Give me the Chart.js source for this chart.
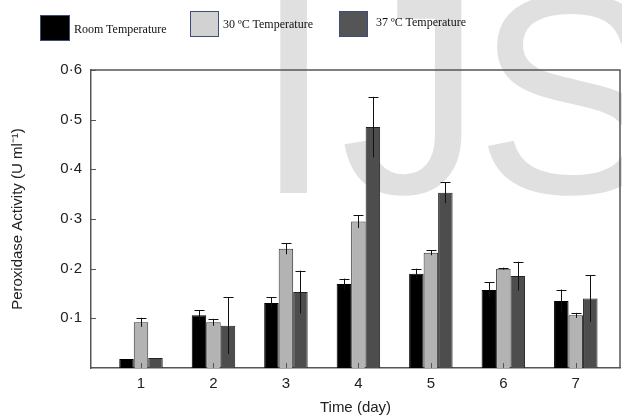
<!DOCTYPE html>
<html>
<head>
<meta charset="utf-8">
<script src="https://cdn.jsdelivr.net/npm/chart.js@4.4.0/dist/chart.umd.min.js"></script>
<style>
  body { margin: 0; background: #fff; }
  #wrap { position: relative; width: 622px; height: 419px; }
  canvas { position: absolute; left: 0; top: 0; }
  .leg { position: absolute; font-family: "Liberation Serif", "Times New Roman", serif; font-size: 12px; color: #111; }
  .box { position: absolute; border: 1px solid #3c4f7a; box-sizing: border-box; }
</style>
</head>
<body>
<div id="wrap">
  <canvas id="grafico" width="622" height="419"></canvas>
  <div class="box" style="left:40px;top:15px;width:30px;height:26px;background:#000;"></div>
  <div class="leg" style="left:74px;top:22px;">Room Temperature</div>
  <div class="box" style="left:190px;top:11px;width:29px;height:26px;background:#d2d2d2;"></div>
  <div class="leg" style="left:223px;top:17px;">30 ºC Temperature</div>
  <div class="box" style="left:339px;top:11px;width:29px;height:26px;background:#555;"></div>
  <div class="leg" style="left:376px;top:15px;">37 ºC Temperature</div>
</div>
<script>
const dias = [1, 2, 3, 4, 5, 6, 7];
const tempAmbiente = [0.018, 0.106, 0.131, 0.169, 0.190, 0.157, 0.135];
const erroAmbiente = [0, 0.010, 0.011, 0.011, 0.010, 0.016, 0.023];
const temp30 = [0.092, 0.092, 0.240, 0.295, 0.232, 0.200, 0.106];
const erro30 = [0.009, 0.007, 0.011, 0.013, 0.005, 0.002, 0.005];
const temp37 = [0.020, 0.085, 0.153, 0.485, 0.353, 0.185, 0.140];
const erro37 = [0, 0.057, 0.043, 0.061, 0.021, 0.029, 0.047];
const ticksY = [0.1, 0.2, 0.3, 0.4, 0.5, 0.6];

function montaSerie(valores) {
  return valores.map((v, i) => ({ x: dias[i], y: v }));
}

const erros = [erroAmbiente, erro30, erro37];

const marcaDagua = {
  id: 'marcaDagua',
  beforeDraw(chart) {
    const ctx = chart.ctx;
    ctx.save();
    ctx.fillStyle = '#e0e0e0';
    ctx.font = '285px "Liberation Sans", Arial, sans-serif';
    ctx.textBaseline = 'alphabetic';
    ctx.fillText('I', 254, 193);
    ctx.fillText('J', 340, 193);
    ctx.fillText('S', 475, 193);
    ctx.restore();
  },
};

const moldura = {
  id: 'moldura',
  afterDatasetsDraw(chart) {
    const ctx = chart.ctx;
    const area = chart.chartArea;
    const sx = chart.scales.x;
    const sy = chart.scales.y;

    // barras de erro
    ctx.save();
    ctx.strokeStyle = '#111';
    ctx.lineWidth = 1;
    chart.data.datasets.forEach((ds, d) => {
      const meta = chart.getDatasetMeta(d);
      meta.data.forEach((bar, i) => {
        const e = erros[d][i];
        if (!e) return;
        const v = ds.data[i].y;
        const top = sy.getPixelForValue(v + e);
        const bot = sy.getPixelForValue(v - e);
        const cx = Math.round(bar.x) + 0.5;
        ctx.beginPath();
        ctx.moveTo(cx, top);
        ctx.lineTo(cx, bot);
        ctx.moveTo(cx - 5, Math.round(top) + 0.5);
        ctx.lineTo(cx + 5, Math.round(top) + 0.5);
        ctx.stroke();
      });
    });
    ctx.restore();

    // moldura e marcas internas
    ctx.save();
    ctx.strokeStyle = '#555';
    ctx.lineWidth = 1.5;
    ctx.beginPath();
    ctx.moveTo(area.left, area.top);
    ctx.lineTo(area.right, area.top);
    ctx.lineTo(area.right, area.bottom);
    ctx.stroke();
    ctx.lineWidth = 1;
    ctx.beginPath();
    ticksY.forEach((t) => {
      const y = Math.round(sy.getPixelForValue(t)) + 0.5;
      ctx.moveTo(area.left, y);
      ctx.lineTo(area.left + 5, y);
    });
    dias.forEach((d) => {
      const x = Math.round(sx.getPixelForValue(d)) + 0.5;
      ctx.moveTo(x, area.bottom);
      ctx.lineTo(x, area.bottom - 5);
    });
    ctx.stroke();
    ctx.restore();
  },
};

new Chart(document.getElementById('grafico'), {
  type: 'bar',
  data: {
    datasets: [
      {
        label: 'Room Temperature',
        data: montaSerie(tempAmbiente),
        backgroundColor: '#000',
        borderColor: '#000',
        borderWidth: 1,
      },
      {
        label: '30 ºC Temperature',
        data: montaSerie(temp30),
        backgroundColor: '#b3b3b3',
        borderColor: '#333',
        borderWidth: 1,
      },
      {
        label: '37 ºC Temperature',
        data: montaSerie(temp37),
        backgroundColor: '#4d4d4d',
        borderColor: '#222',
        borderWidth: 1,
      },
    ],
  },
  options: {
    responsive: false,
    animation: false,
    layout: { padding: { top: 70, right: 2, left: 0, bottom: 0 } },
    datasets: { bar: { barPercentage: 1, categoryPercentage: 0.6 } },
    plugins: {
      legend: { display: false },
      tooltip: { enabled: false },
    },
    scales: {
      x: {
        type: 'linear',
        min: 0.31,
        max: 7.61,
        offset: false,
        afterBuildTicks: (scale) => {
          scale.ticks = dias.map((d) => ({ value: d }));
        },
        afterFit: (scale) => {
          scale.height = 51;
        },
        grid: { display: false, drawTicks: false },
        border: { display: true, color: '#555', width: 1.5 },
        ticks: {
          color: '#222',
          padding: 7,
          font: { family: '"Liberation Sans", Arial, sans-serif', size: 15 },
          callback: (v) => String(v),
        },
        title: {
          display: true,
          text: 'Time (day)',
          color: '#222',
          padding: { top: 0, bottom: 2 },
          font: { family: '"Liberation Sans", Arial, sans-serif', size: 15 },
        },
      },
      y: {
        min: 0,
        max: 0.6,
        afterBuildTicks: (scale) => {
          scale.ticks = ticksY.map((t) => ({ value: t }));
        },
        afterFit: (scale) => {
          scale.width = 91;
        },
        grid: { display: false, drawTicks: false },
        border: { display: true, color: '#555', width: 1.5 },
        ticks: {
          color: '#222',
          padding: 9,
          font: { family: '"Liberation Sans", Arial, sans-serif', size: 15 },
          callback: (v) => v.toFixed(1).replace('.', '·'),
        },
        title: {
          display: true,
          text: 'Peroxidase Activity (U ml⁻¹)',
          color: '#222',
          padding: { top: 9, bottom: 0 },
          font: { family: '"Liberation Sans", Arial, sans-serif', size: 15 },
        },
      },
    },
  },
  plugins: [marcaDagua, moldura],
});
</script>
</body>
</html>
